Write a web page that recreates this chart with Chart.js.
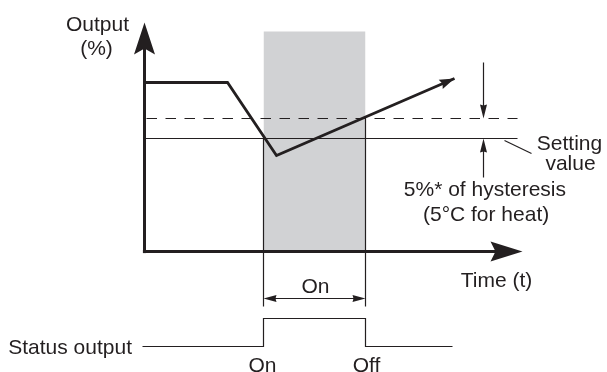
<!DOCTYPE html>
<html><head><meta charset="utf-8">
<script src="https://cdn.jsdelivr.net/npm/chart.js@4/dist/chart.umd.min.js"></script>
<style>html,body{margin:0;padding:0;background:#fff}#wrap{width:607px;height:372px;position:relative}</style>
</head><body><div id="wrap"><canvas id="c"></canvas></div>
<script>
// ---- data (time units, output %) ----
const outputTime  = [0, 20.75, 33, 77.5];
const outputValue = [42.25, 42.25, 24, 43.25];
const settingValue = 28.25;
const hysteresis = 5;
const onStart = 29.75;
const onEnd = 55.25;
const statusTime  = [-0.5, onStart, onStart, onEnd, onEnd, 77];
const statusLevel = [-23.75, -23.75, -16.75, -16.75, -23.75, -23.75];
const axisTimeMax = 94.5;
const axisOutputMax = 57.25;
const refLineEnd = 93.25;
const guideBottom = -13.75;
const onArrowLevel = -11.75;
const shadeTop = 55;
const hystArrowTime = 84.75;
const labels = [
  {text: 'Output', t: -11.75, v: 55.25},
  {text: '(%)', t: -12, v: 49.1},
  {text: 'Setting', t: 106.25, v: 25.5},
  {text: 'value', t: 106.5, v: 20.5},
  {text: '5%* of hysteresis', t: 85.1, v: 14},
  {text: '(5°C for heat)', t: 85.4, v: 7.75},
  {text: 'Time (t)', t: 88, v: -8.75},
  {text: 'On', t: 42.75, v: -10.25},
  {text: 'Status output', t: -18.6, v: -25.5},
  {text: 'On', t: 29.5, v: -30.1},
  {text: 'Off', t: 55.5, v: -30.1}
];

const INK = '#231f20';
const pts = (xs, ys) => xs.map((x, i) => ({x, y: ys[i]}));
const line = (data, w, extra) => Object.assign({data, showLine: true, borderColor: INK, borderWidth: w, pointRadius: 0, fill: false, tension: 0, borderCapStyle: 'butt', borderJoinStyle: 'miter'}, extra || {});

const datasets = [
  line(pts([onStart, onEnd], [shadeTop, shadeTop]), 0, {fill: 'origin', backgroundColor: '#d1d2d4', order: 10}),
  line(pts([0, refLineEnd], [settingValue, settingValue]), 1.2, {order: 5}),
  line(pts([0.5, refLineEnd], [settingValue + hysteresis, settingValue + hysteresis]), 1.2, {borderDash: [10.5, 8.5], order: 5}),
  line(pts([onStart, onStart], [settingValue, guideBottom]), 1.2, {order: 5}),
  line(pts([onEnd, onEnd], [settingValue + hysteresis, guideBottom]), 1.2, {order: 5}),
  line(pts([onStart + 2, onEnd - 2], [onArrowLevel, onArrowLevel]), 1.2, {order: 5}),
  line(pts([hystArrowTime, hystArrowTime], [47.25, settingValue + hysteresis + 2]), 1.2, {order: 5}),
  line(pts([hystArrowTime, hystArrowTime], [18.5, settingValue - 2]), 1.2, {order: 5}),
  line(pts([90, 96.75], [27.75, 24.5]), 1.2, {order: 5}),
  line(pts(statusTime, statusLevel), 1.2, {order: 5}),
  line(pts([0, 0], [-0.4, 52]), 3, {order: 1}),
  line(pts([-0.4, 90], [0, 0]), 3, {order: 1}),
  line(pts(outputTime, outputValue), 2.8, {order: 1})
];

const arrows = [
  {from: [0, 0], tip: [0, axisOutputMax], len: 32, hw: 10.5, notch: 6},
  {from: [0, 0], tip: [axisTimeMax, 0], len: 32, hw: 10, notch: 5},
  {from: [outputTime[2], outputValue[2]], tip: [outputTime[3], outputValue[3]], len: 15, hw: 5, notch: 2},
  {from: [hystArrowTime, 47.25], tip: [hystArrowTime, settingValue + hysteresis], len: 14, hw: 3.5, notch: 1},
  {from: [hystArrowTime, 18.5], tip: [hystArrowTime, settingValue], len: 14, hw: 3.5, notch: 1},
  {from: [onEnd, onArrowLevel], tip: [onStart, onArrowLevel], len: 13, hw: 3.5, notch: 1},
  {from: [onStart, onArrowLevel], tip: [onEnd, onArrowLevel], len: 13, hw: 3.5, notch: 1}
];

const deco = {
  id: 'deco',
  afterDatasetsDraw(chart) {
    const {ctx, scales: {x, y}} = chart;
    ctx.save();
    ctx.fillStyle = INK;
    arrows.forEach(a => {
      const fx = x.getPixelForValue(a.from[0]), fy = y.getPixelForValue(a.from[1]);
      const tx = x.getPixelForValue(a.tip[0]), ty = y.getPixelForValue(a.tip[1]);
      const d = Math.hypot(tx - fx, ty - fy), ux = (tx - fx) / d, uy = (ty - fy) / d;
      const nx = -uy, ny = ux;
      const bx = tx - ux * a.len, by = ty - uy * a.len;
      ctx.beginPath();
      ctx.moveTo(tx, ty);
      ctx.lineTo(bx + nx * a.hw, by + ny * a.hw);
      ctx.lineTo(bx + ux * a.notch, by + uy * a.notch);
      ctx.lineTo(bx - nx * a.hw, by - ny * a.hw);
      ctx.closePath();
      ctx.fill();
    });
    ctx.font = '21px "Liberation Sans", Arial, sans-serif';
    ctx.textAlign = 'center';
    ctx.textBaseline = 'alphabetic';
    labels.forEach(l => ctx.fillText(l.text, x.getPixelForValue(l.t), y.getPixelForValue(l.v)));
    ctx.restore();
  }
};

new Chart(document.getElementById('c'), {
  type: 'scatter',
  data: {datasets},
  options: {
    responsive: true, maintainAspectRatio: false, animation: false, events: [],
    layout: {padding: 0},
    plugins: {legend: {display: false}, tooltip: {enabled: false}},
    scales: {
      x: {type: 'linear', display: false, min: -36.125, max: 115.625},
      y: {type: 'linear', display: false, min: -30.125, max: 62.875}
    }
  },
  plugins: [deco]
});
</script></body></html>
